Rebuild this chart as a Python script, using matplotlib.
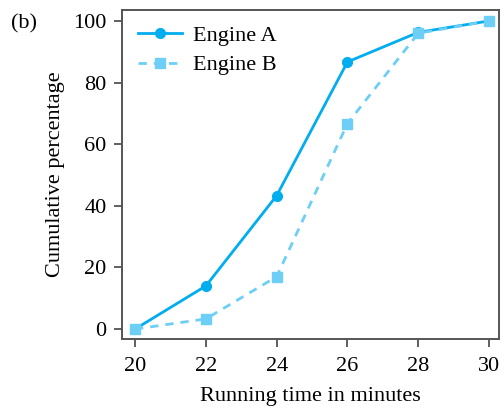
import matplotlib.pyplot as plt

plt.rcParams['font.family'] = ['Liberation Serif', 'DejaVu Serif']

minutes = [20, 22, 24, 26, 28, 30]
engine_a = [0, 14, 43.3, 86.7, 96.3, 100]
engine_b = [0, 3.3, 17, 66.7, 96, 100]

fig = plt.figure(figsize=(5.04, 4.11), dpi=100)
ax = fig.add_axes([0.242, 0.175, 0.748, 0.801])

ax.plot(minutes, engine_a, '-o', color='#00aeef', lw=2, ms=7, label='Engine A')
ax.plot(minutes, engine_b, '--s', color='#6dcff6', lw=2, ms=6.5, label='Engine B',
        dashes=(3, 2.5))

ax.set_xlim(19.63, 30.28)
ax.set_ylim(-3.25, 103.6)
ax.set_xticks(minutes)
ax.set_yticks([0, 20, 40, 60, 80, 100])
ax.tick_params(direction='out', length=6, width=1.2, color='#444444', labelsize=16)
ax.tick_params(axis='x', pad=7)
ax.tick_params(axis='y', pad=5)
for s in ax.spines.values():
    s.set_color('#555555')
    s.set_linewidth(1.4)

ax.set_xlabel('Running time in minutes', fontsize=16, labelpad=8)
ax.set_ylabel('Cumulative percentage', fontsize=16, labelpad=6)
ax.legend(loc='upper left', frameon=False, fontsize=16, handlelength=2.0,
          borderaxespad=0.3, labelspacing=0.4, handletextpad=0.5)
fig.text(0.022, 0.93, '(b)', fontsize=16)

fig.savefig('out.png', dpi=100)
